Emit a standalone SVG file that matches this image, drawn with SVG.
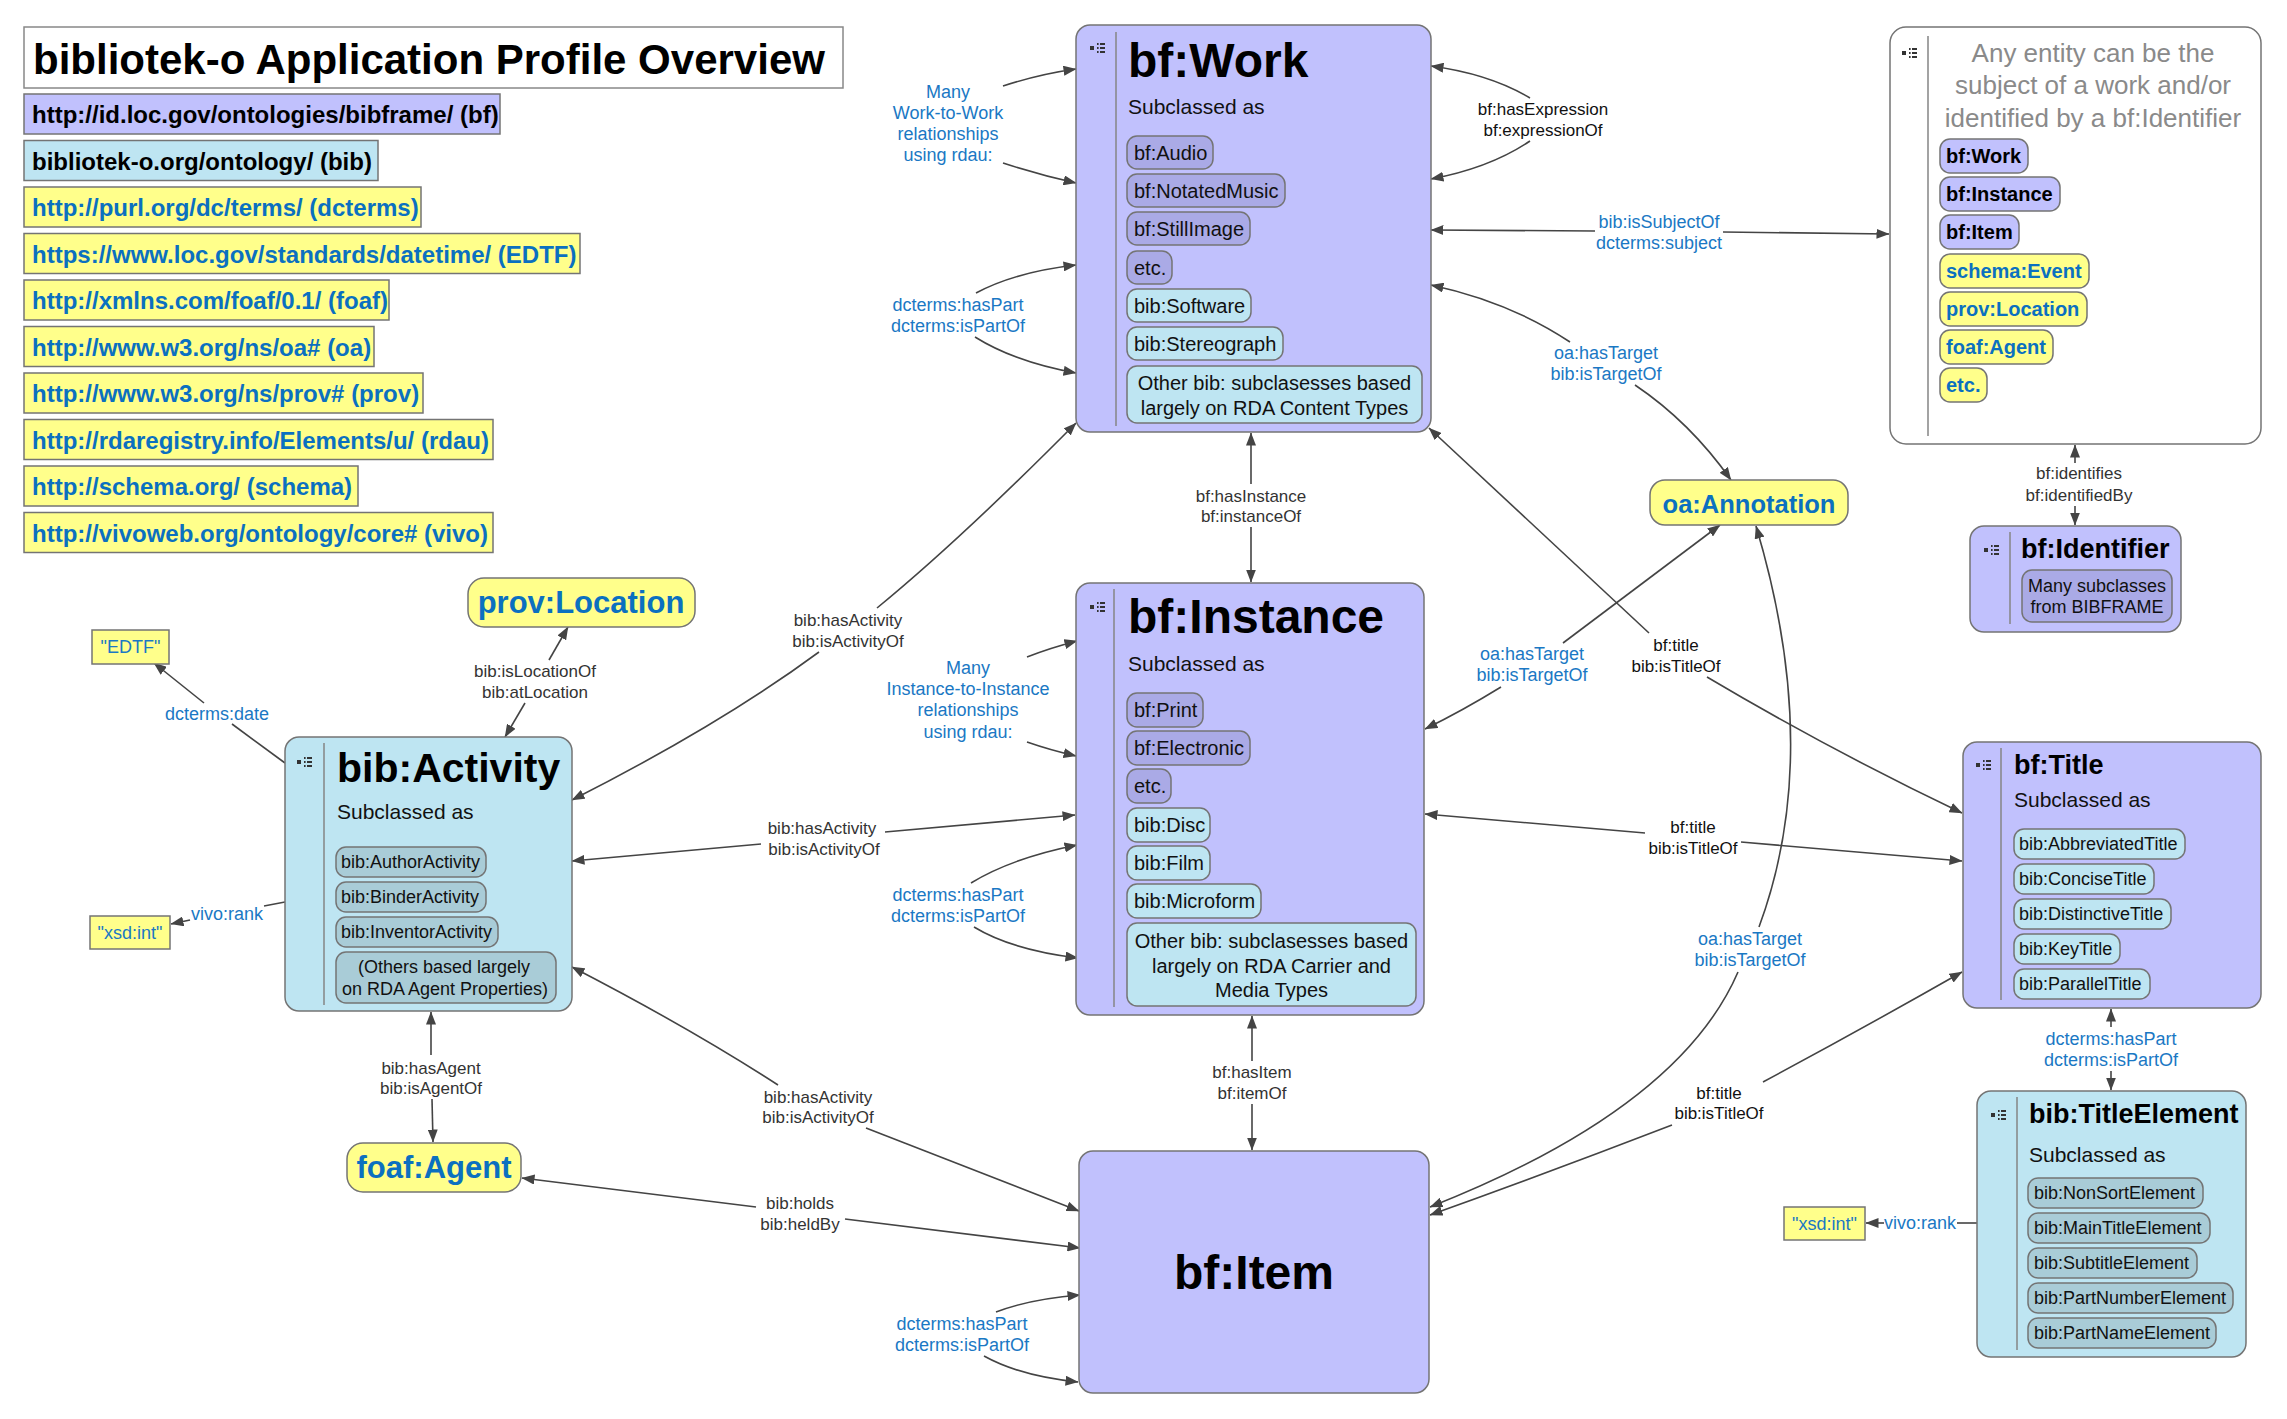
<svg xmlns="http://www.w3.org/2000/svg" width="2287" height="1419" viewBox="0 0 2287 1419">
<style>
text { font-family: "Liberation Sans", Arial, Helvetica, sans-serif; }
.box { stroke: #747474; stroke-width: 1.5; }
.lav { fill: #c1c1fd; }
.dlav { fill: #aaaae6; }
.lb { fill: #bee5f2; }
.gb { fill: #a9ccd7; }
.yel { fill: #ffff8b; }
.wht { fill: #ffffff; }
.sep { stroke: #858585; stroke-width: 1.5; }
.h48 { font-size: 48px; font-weight: bold; fill: #000; }
.h27 { font-size: 27px; font-weight: bold; fill: #000; }
.sub { font-size: 21px; fill: #111; }
.p20 { font-size: 20px; fill: #111; }
.p18 { font-size: 18px; fill: #111; }
.pb { font-size: 20px; font-weight: bold; fill: #000; }
.pby { font-size: 20px; font-weight: bold; fill: #0b70c0; }
.mid { text-anchor: middle; }
.big { font-size: 31px; font-weight: bold; fill: #0b70c0; text-anchor: middle; }
.lit { font-size: 18px; fill: #1a78c4; text-anchor: middle; }
.edge { fill: none; stroke: #444; stroke-width: 1.6; }
.lbl { font-size: 17px; fill: #333; text-anchor: middle; }
.dlbl { font-size: 17px; fill: #111; text-anchor: middle; }
.blbl { font-size: 18px; fill: #1a78c4; text-anchor: middle; }
.leg { font-size: 24px; font-weight: bold; }
.legb { font-size: 24px; font-weight: bold; fill: #0b70c0; }
.gray { font-size: 26px; fill: #8a8a8a; text-anchor: middle; }
</style>
<defs>
<marker id="ah" viewBox="0 0 13 10" refX="12.5" refY="5" markerWidth="13" markerHeight="10" markerUnits="userSpaceOnUse" orient="auto-start-reverse">
<path d="M0,0 L13,5 L0,10 z" fill="#444"/>
</marker>
<g id="ico" fill="#333">
<rect x="0" y="3" width="4" height="4"/>
<rect x="7" y="0" width="1.6" height="2"/><rect x="7" y="4" width="1.6" height="2"/><rect x="7" y="8" width="1.6" height="2"/>
<rect x="10" y="0" width="5" height="2"/><rect x="10" y="4" width="5" height="2"/><rect x="10" y="8" width="5" height="2"/>
</g>
</defs>
<rect x="0" y="0" width="2287" height="1419" fill="#fff"/>

<g id="legend">
<rect x="24" y="27" width="819" height="61" fill="#fff" stroke="#888" stroke-width="1.5"/>
<text x="33" y="74" font-size="42" font-weight="bold" fill="#000">bibliotek-o Application Profile Overview</text>
<rect class="box lav" x="24" y="94" width="476" height="40"/>
<text class="leg" x="32" y="123" fill="#000">http://id.loc.gov/ontologies/bibframe/ (bf)</text>
<rect class="box lb" x="24" y="140.5" width="354" height="40"/>
<text class="leg" x="32" y="169.5" fill="#000">bibliotek-o.org/ontology/ (bib)</text>
<rect class="box yel" x="24" y="187" width="397" height="40"/>
<text class="legb" x="32" y="216">http://purl.org/dc/terms/ (dcterms)</text>
<rect class="box yel" x="24" y="233.5" width="556" height="40"/>
<text class="legb" x="32" y="262.5">https://www.loc.gov/standards/datetime/ (EDTF)</text>
<rect class="box yel" x="24" y="280" width="365" height="40"/>
<text class="legb" x="32" y="309">http://xmlns.com/foaf/0.1/ (foaf)</text>
<rect class="box yel" x="24" y="326.5" width="350" height="40"/>
<text class="legb" x="32" y="355.5">http://www.w3.org/ns/oa# (oa)</text>
<rect class="box yel" x="24" y="373" width="399" height="40"/>
<text class="legb" x="32" y="402">http://www.w3.org/ns/prov# (prov)</text>
<rect class="box yel" x="24" y="419.5" width="469" height="40"/>
<text class="legb" x="32" y="448.5">http://rdaregistry.info/Elements/u/ (rdau)</text>
<rect class="box yel" x="24" y="466" width="334" height="40"/>
<text class="legb" x="32" y="495">http://schema.org/ (schema)</text>
<rect class="box yel" x="24" y="512.5" width="469" height="40"/>
<text class="legb" x="32" y="541.5">http://vivoweb.org/ontology/core# (vivo)</text>
</g>

<g id="connectors">
<!-- Work self loop -->
<path class="edge" d="M1530,98 Q1490,74 1431,66" marker-end="url(#ah)"/>
<path class="edge" d="M1530,141 Q1490,168 1431,179" marker-end="url(#ah)"/>
<text class="dlbl" x="1543" y="115">bf:hasExpression</text>
<text class="dlbl" x="1543" y="136">bf:expressionOf</text>
<!-- Work - any entity -->
<path class="edge" d="M1595,231 L1431,230" marker-end="url(#ah)"/>
<path class="edge" d="M1723,232 L1889,234" marker-end="url(#ah)"/>
<text class="blbl" x="1659" y="228">bib:isSubjectOf</text>
<text class="blbl" x="1659" y="249">dcterms:subject</text>
<!-- Work - Annotation -->
<path class="edge" d="M1570,342 Q1510,302 1431,285" marker-end="url(#ah)"/>
<path class="edge" d="M1635,385 Q1690,422 1731,480" marker-end="url(#ah)"/>
<text class="blbl" x="1606" y="359">oa:hasTarget</text>
<text class="blbl" x="1606" y="380">bib:isTargetOf</text>
<!-- Work - Instance -->
<path class="edge" d="M1251,484 L1251,433" marker-end="url(#ah)"/>
<path class="edge" d="M1251,527 L1251,582" marker-end="url(#ah)"/>
<text class="lbl" x="1251" y="502">bf:hasInstance</text>
<text class="lbl" x="1251" y="522">bf:instanceOf</text>
<!-- Work - Activity -->
<path class="edge" d="M877,608 Q960,540 1076,423" marker-end="url(#ah)"/>
<path class="edge" d="M819,652 Q720,725 572,800" marker-end="url(#ah)"/>
<text class="lbl" x="848" y="626">bib:hasActivity</text>
<text class="lbl" x="848" y="647">bib:isActivityOf</text>
<!-- Work-to-Work -->
<path class="edge" d="M1003,86 Q1040,74 1076,69" marker-end="url(#ah)"/>
<path class="edge" d="M1003,163 Q1040,175 1076,183" marker-end="url(#ah)"/>
<text class="blbl" x="948" y="98">Many</text>
<text class="blbl" x="948" y="119">Work-to-Work</text>
<text class="blbl" x="948" y="140">relationships</text>
<text class="blbl" x="948" y="161">using rdau:</text>
<!-- Work parts -->
<path class="edge" d="M976,293 Q1015,272 1076,265" marker-end="url(#ah)"/>
<path class="edge" d="M975,337 Q1015,362 1076,373" marker-end="url(#ah)"/>
<text class="blbl" x="958" y="311">dcterms:hasPart</text>
<text class="blbl" x="958" y="332">dcterms:isPartOf</text>
<!-- Instance-to-Instance -->
<path class="edge" d="M1027,657 Q1050,648 1077,641" marker-end="url(#ah)"/>
<path class="edge" d="M1027,742 Q1050,750 1076,756" marker-end="url(#ah)"/>
<text class="blbl" x="968" y="674">Many</text>
<text class="blbl" x="968" y="695">Instance-to-Instance</text>
<text class="blbl" x="968" y="716">relationships</text>
<text class="blbl" x="968" y="738">using rdau:</text>
<!-- Activity - Instance -->
<path class="edge" d="M885,832 L1075,815" marker-end="url(#ah)"/>
<path class="edge" d="M761,844 L572,861" marker-end="url(#ah)"/>
<text class="lbl" x="822" y="834">bib:hasActivity</text>
<text class="lbl" x="824" y="855">bib:isActivityOf</text>
<!-- Instance parts -->
<path class="edge" d="M971,883 Q1012,858 1077,845" marker-end="url(#ah)"/>
<path class="edge" d="M974,927 Q1012,950 1078,958" marker-end="url(#ah)"/>
<text class="blbl" x="958" y="901">dcterms:hasPart</text>
<text class="blbl" x="958" y="922">dcterms:isPartOf</text>
<!-- Instance - Item -->
<path class="edge" d="M1252,1061 L1252,1016" marker-end="url(#ah)"/>
<path class="edge" d="M1252,1104 L1252,1150" marker-end="url(#ah)"/>
<text class="lbl" x="1252" y="1078">bf:hasItem</text>
<text class="lbl" x="1252" y="1099">bf:itemOf</text>
<!-- Activity - Item -->
<path class="edge" d="M778,1085 Q690,1028 572,967" marker-end="url(#ah)"/>
<path class="edge" d="M866,1128 L1079,1211" marker-end="url(#ah)"/>
<text class="lbl" x="818" y="1103">bib:hasActivity</text>
<text class="lbl" x="818" y="1123">bib:isActivityOf</text>
<!-- Activity - Agent -->
<path class="edge" d="M431,1055 L431,1012" marker-end="url(#ah)"/>
<path class="edge" d="M432,1099 L433,1142" marker-end="url(#ah)"/>
<text class="lbl" x="431" y="1074">bib:hasAgent</text>
<text class="lbl" x="431" y="1094">bib:isAgentOf</text>
<!-- Agent - Item -->
<path class="edge" d="M756,1207 L522,1178" marker-end="url(#ah)"/>
<path class="edge" d="M845,1219 L1080,1248" marker-end="url(#ah)"/>
<text class="lbl" x="800" y="1209">bib:holds</text>
<text class="lbl" x="800" y="1230">bib:heldBy</text>
<!-- Item parts -->
<path class="edge" d="M996,1312 Q1030,1299 1080,1295" marker-end="url(#ah)"/>
<path class="edge" d="M984,1356 Q1020,1376 1078,1382" marker-end="url(#ah)"/>
<text class="blbl" x="962" y="1330">dcterms:hasPart</text>
<text class="blbl" x="962" y="1351">dcterms:isPartOf</text>
<!-- Activity - Location -->
<path class="edge" d="M525,703 L505,737" marker-end="url(#ah)"/>
<path class="edge" d="M549,660 L568,627" marker-end="url(#ah)"/>
<text class="lbl" x="535" y="677">bib:isLocationOf</text>
<text class="lbl" x="535" y="698">bib:atLocation</text>
<!-- Activity - EDTF -->
<path class="edge" d="M285,763 L232,724"/>
<path class="edge" d="M204,703 L154,663" marker-end="url(#ah)"/>
<text class="blbl" x="217" y="720">dcterms:date</text>
<!-- Activity - xsd:int -->
<path class="edge" d="M285,902 L264,906"/>
<path class="edge" d="M190,920 L171,924" marker-end="url(#ah)"/>
<text class="blbl" x="227" y="920">vivo:rank</text>
<!-- Work - Title -->
<path class="edge" d="M1649,633 L1429,428" marker-end="url(#ah)"/>
<path class="edge" d="M1707,677 Q1830,750 1962,813" marker-end="url(#ah)"/>
<text class="dlbl" x="1676" y="651">bf:title</text>
<text class="dlbl" x="1676" y="672">bib:isTitleOf</text>
<!-- Instance - Title -->
<path class="edge" d="M1645,833 L1425,814" marker-end="url(#ah)"/>
<path class="edge" d="M1741,842 L1962,861" marker-end="url(#ah)"/>
<text class="dlbl" x="1693" y="833">bf:title</text>
<text class="dlbl" x="1693" y="854">bib:isTitleOf</text>
<!-- Annotation - Instance -->
<path class="edge" d="M1563,643 L1720,525" marker-end="url(#ah)"/>
<path class="edge" d="M1501,687 Q1462,711 1425,729" marker-end="url(#ah)"/>
<text class="blbl" x="1532" y="660">oa:hasTarget</text>
<text class="blbl" x="1532" y="681">bib:isTargetOf</text>
<!-- Annotation - Item -->
<path class="edge" d="M1759,927 C1795,830 1808,700 1756,526" marker-end="url(#ah)"/>
<path class="edge" d="M1738,972 C1700,1060 1600,1140 1430,1207" marker-end="url(#ah)"/>
<text class="blbl" x="1750" y="945">oa:hasTarget</text>
<text class="blbl" x="1750" y="966">bib:isTargetOf</text>
<!-- Title - Item -->
<path class="edge" d="M1763,1082 Q1860,1030 1962,972" marker-end="url(#ah)"/>
<path class="edge" d="M1672,1125 Q1550,1172 1430,1215" marker-end="url(#ah)"/>
<text class="dlbl" x="1719" y="1099">bf:title</text>
<text class="dlbl" x="1719" y="1119">bib:isTitleOf</text>
<!-- Any entity - Identifier -->
<path class="edge" d="M2075,463 L2075,445" marker-end="url(#ah)"/>
<path class="edge" d="M2075,506 L2075,525" marker-end="url(#ah)"/>
<text class="lbl" x="2079" y="479">bf:identifies</text>
<text class="lbl" x="2079" y="501">bf:identifiedBy</text>
<!-- Title - TitleElement -->
<path class="edge" d="M2111,1027 L2111,1009" marker-end="url(#ah)"/>
<path class="edge" d="M2111,1071 L2111,1090" marker-end="url(#ah)"/>
<text class="blbl" x="2111" y="1045">dcterms:hasPart</text>
<text class="blbl" x="2111" y="1066">dcterms:isPartOf</text>
<!-- TitleElement - xsd:int -->
<path class="edge" d="M1977,1223 L1957,1223"/>
<path class="edge" d="M1884,1223 L1866,1223" marker-end="url(#ah)"/>
<text class="blbl" x="1920" y="1229">vivo:rank</text>
</g>

<g id="node-bf-work">
<rect class="box lav" x="1076" y="25" width="355" height="407" rx="14"/>
<use href="#ico" x="1090" y="43"/>
<line class="sep" x1="1116" y1="32" x2="1116" y2="426"/>
<text class="h48" x="1128" y="77">bf:Work</text>
<text class="sub" x="1128" y="114">Subclassed as</text>
<rect class="box dlav" x="1127" y="136" width="86" height="33" rx="10"/>
<text class="p20" x="1134" y="159.5">bf:Audio</text>
<rect class="box dlav" x="1127" y="174" width="158" height="33" rx="10"/>
<text class="p20" x="1134" y="197.5">bf:NotatedMusic</text>
<rect class="box dlav" x="1127" y="212" width="123" height="33" rx="10"/>
<text class="p20" x="1134" y="235.5">bf:StillImage</text>
<rect class="box dlav" x="1127" y="251" width="45" height="33" rx="10"/>
<text class="p20" x="1134" y="274.5">etc.</text>
<rect class="box lb" x="1127" y="289" width="124" height="33" rx="10"/>
<text class="p20" x="1134" y="312.5">bib:Software</text>
<rect class="box lb" x="1127" y="327" width="156" height="33" rx="10"/>
<text class="p20" x="1134" y="350.5">bib:Stereograph</text>
<rect class="box lb" x="1127" y="366" width="295" height="57" rx="10"/>
<text class="p20 mid" x="1274.5" y="390">Other bib: subclasesses based</text>
<text class="p20 mid" x="1274.5" y="414.5">largely on RDA Content Types</text>
</g>

<g id="node-bf-instance">
<rect class="box lav" x="1076" y="583" width="348" height="432" rx="14"/>
<use href="#ico" x="1090" y="602"/>
<line class="sep" x1="1114" y1="589" x2="1114" y2="1007"/>
<text class="h48" x="1128" y="633">bf:Instance</text>
<text class="sub" x="1128" y="671">Subclassed as</text>
<rect class="box dlav" x="1127" y="693" width="76" height="34" rx="10"/>
<text class="p20" x="1134" y="717">bf:Print</text>
<rect class="box dlav" x="1127" y="731" width="123" height="34" rx="10"/>
<text class="p20" x="1134" y="755">bf:Electronic</text>
<rect class="box dlav" x="1127" y="769" width="44" height="34" rx="10"/>
<text class="p20" x="1134" y="793">etc.</text>
<rect class="box lb" x="1127" y="808" width="83" height="34" rx="10"/>
<text class="p20" x="1134" y="832">bib:Disc</text>
<rect class="box lb" x="1127" y="846" width="83" height="34" rx="10"/>
<text class="p20" x="1134" y="870">bib:Film</text>
<rect class="box lb" x="1127" y="884" width="134" height="34" rx="10"/>
<text class="p20" x="1134" y="908">bib:Microform</text>
<rect class="box lb" x="1127" y="923" width="289" height="83" rx="10"/>
<text class="p20 mid" x="1271.5" y="948">Other bib: subclasesses based</text>
<text class="p20 mid" x="1271.5" y="972.5">largely on RDA Carrier and</text>
<text class="p20 mid" x="1271.5" y="997">Media Types</text>
</g>

<g id="node-bf-item">
<rect class="box lav" x="1079" y="1151" width="350" height="242" rx="14"/>
<text class="h48 mid" x="1254" y="1289">bf:Item</text>
</g>

<g id="node-bib-activity">
<rect class="box lb" x="285" y="737" width="287" height="274" rx="14"/>
<use href="#ico" x="297" y="757"/>
<line class="sep" x1="324" y1="743" x2="324" y2="1005"/>
<text x="337" y="782" font-size="41" font-weight="bold" fill="#000">bib:Activity</text>
<text class="sub" x="337" y="819">Subclassed as</text>
<rect class="box gb" x="336" y="847" width="150" height="30" rx="10"/>
<text class="p18" x="341" y="868">bib:AuthorActivity</text>
<rect class="box gb" x="336" y="882" width="150" height="30" rx="10"/>
<text class="p18" x="341" y="903">bib:BinderActivity</text>
<rect class="box gb" x="336" y="917" width="162" height="30" rx="10"/>
<text class="p18" x="341" y="938">bib:InventorActivity</text>
<rect class="box gb" x="336" y="952" width="220" height="51" rx="10"/>
<text class="p18 mid" x="444" y="973">(Others based largely</text>
<text class="p18 mid" x="445" y="995">on RDA Agent Properties)</text>
</g>

<g id="node-prov-location">
<rect class="box yel" x="468" y="578" width="227" height="49" rx="16"/>
<text class="big" x="581" y="613">prov:Location</text>
</g>

<g id="node-edtf">
<rect class="box yel" x="92" y="630" width="77" height="34"/>
<text class="lit" x="130.5" y="653">"EDTF"</text>
</g>

<g id="node-xsd-int-1">
<rect class="box yel" x="90" y="916" width="80" height="33"/>
<text class="lit" x="130" y="939">"xsd:int"</text>
</g>

<g id="node-foaf-agent">
<rect class="box yel" x="347" y="1143" width="174" height="49" rx="16"/>
<text class="big" x="434" y="1178">foaf:Agent</text>
</g>

<g id="node-oa-annotation">
<rect class="box yel" x="1650" y="480" width="198" height="45" rx="15"/>
<text class="big" x="1749" y="513" font-size="25.5px" style="font-size:25.5px">oa:Annotation</text>
</g>

<g id="node-any-entity">
<rect class="box wht" x="1890" y="27" width="371" height="417" rx="16"/>
<use href="#ico" x="1902" y="48"/>
<line class="sep" x1="1928" y1="36" x2="1928" y2="436"/>
<text class="gray" x="2093" y="62">Any entity can be the</text>
<text class="gray" x="2093" y="94">subject of a work and/or</text>
<text class="gray" x="2093" y="127">identified by a bf:Identifier</text>
<rect class="box lav" x="1940" y="139" width="88" height="34" rx="10"/>
<text class="pb" x="1946" y="163">bf:Work</text>
<rect class="box lav" x="1940" y="177" width="120" height="34" rx="10"/>
<text class="pb" x="1946" y="201">bf:Instance</text>
<rect class="box lav" x="1940" y="215" width="79" height="34" rx="10"/>
<text class="pb" x="1946" y="239">bf:Item</text>
<rect class="box yel" x="1940" y="254" width="149" height="34" rx="10"/>
<text class="pby" x="1946" y="278">schema:Event</text>
<rect class="box yel" x="1940" y="292" width="147" height="34" rx="10"/>
<text class="pby" x="1946" y="316">prov:Location</text>
<rect class="box yel" x="1940" y="330" width="113" height="34" rx="10"/>
<text class="pby" x="1946" y="354">foaf:Agent</text>
<rect class="box yel" x="1940" y="368" width="47" height="34" rx="10"/>
<text class="pby" x="1946" y="392">etc.</text>
</g>

<g id="node-bf-identifier">
<rect class="box lav" x="1970" y="526" width="211" height="106" rx="14"/>
<use href="#ico" x="1984" y="545"/>
<line class="sep" x1="2010" y1="532" x2="2010" y2="624"/>
<text class="h27" x="2021" y="558">bf:Identifier</text>
<rect class="box dlav" x="2022" y="570" width="150" height="52" rx="10"/>
<text class="p18 mid" x="2097" y="592">Many subclasses</text>
<text class="p18 mid" x="2097" y="613">from BIBFRAME</text>
</g>

<g id="node-bf-title">
<rect class="box lav" x="1963" y="742" width="298" height="266" rx="14"/>
<use href="#ico" x="1976" y="760"/>
<line class="sep" x1="2001" y1="748" x2="2001" y2="1000"/>
<text class="h27" x="2014" y="774">bf:Title</text>
<text class="sub" x="2014" y="807">Subclassed as</text>
<rect class="box lb" x="2014" y="829" width="171" height="30" rx="10"/>
<text class="p18" x="2019" y="850">bib:AbbreviatedTitle</text>
<rect class="box lb" x="2014" y="864" width="140" height="30" rx="10"/>
<text class="p18" x="2019" y="885">bib:ConciseTitle</text>
<rect class="box lb" x="2014" y="899" width="157" height="30" rx="10"/>
<text class="p18" x="2019" y="920">bib:DistinctiveTitle</text>
<rect class="box lb" x="2014" y="934" width="106" height="30" rx="10"/>
<text class="p18" x="2019" y="955">bib:KeyTitle</text>
<rect class="box lb" x="2014" y="969" width="136" height="30" rx="10"/>
<text class="p18" x="2019" y="990">bib:ParallelTitle</text>
</g>

<g id="node-bib-titleelement">
<rect class="box lb" x="1977" y="1091" width="269" height="266" rx="14"/>
<use href="#ico" x="1991" y="1110"/>
<line class="sep" x1="2017" y1="1097" x2="2017" y2="1350"/>
<text class="h27" x="2029" y="1123">bib:TitleElement</text>
<text class="sub" x="2029" y="1162">Subclassed as</text>
<rect class="box gb" x="2028" y="1178" width="175" height="30" rx="10"/>
<text class="p18" x="2034" y="1199">bib:NonSortElement</text>
<rect class="box gb" x="2028" y="1213" width="182" height="30" rx="10"/>
<text class="p18" x="2034" y="1234">bib:MainTitleElement</text>
<rect class="box gb" x="2028" y="1248" width="169" height="30" rx="10"/>
<text class="p18" x="2034" y="1269">bib:SubtitleElement</text>
<rect class="box gb" x="2028" y="1283" width="205" height="30" rx="10"/>
<text class="p18" x="2034" y="1304">bib:PartNumberElement</text>
<rect class="box gb" x="2028" y="1318" width="188" height="30" rx="10"/>
<text class="p18" x="2034" y="1339">bib:PartNameElement</text>
</g>

<g id="node-xsd-int-2">
<rect class="box yel" x="1784" y="1207" width="81" height="33"/>
<text class="lit" x="1824.5" y="1230">"xsd:int"</text>
</g>
</svg>
